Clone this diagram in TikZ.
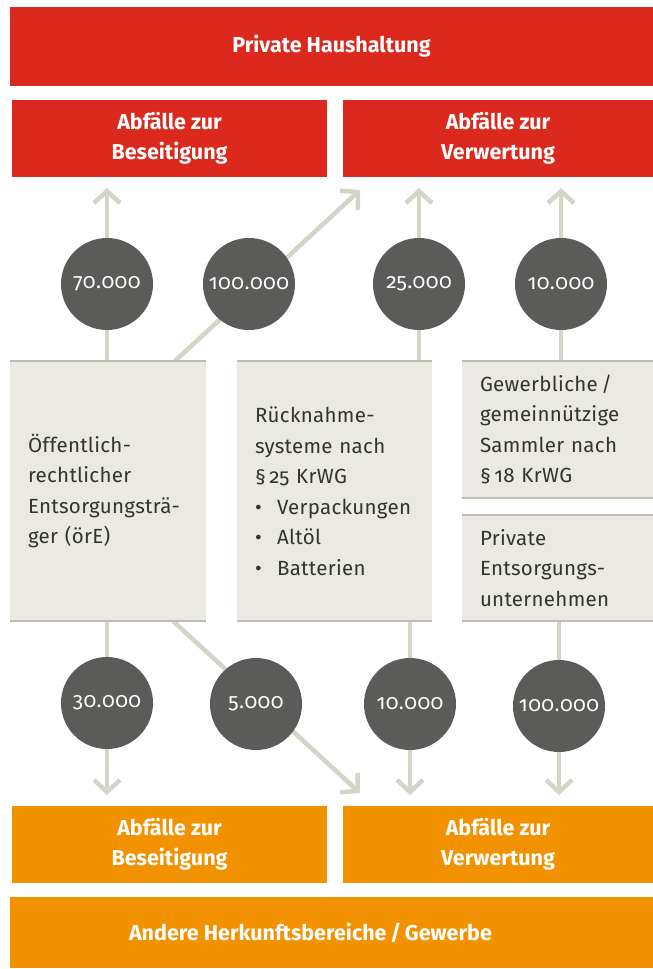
\documentclass[tikz,border=0pt]{standalone}
\usepackage{fontspec}
\setmainfont{Fira Sans}[Numbers=OldStyle]
\newfontfamily\numfont{Fira Sans}[Numbers=OldStyle, LetterSpace=2]
\newfontfamily\bodyfont{Fira Sans}[Numbers=OldStyle, LetterSpace=1.5]
\usetikzlibrary{arrows.meta}
\definecolor{hred}{HTML}{DC291E}
\definecolor{horange}{HTML}{F39200}
\definecolor{circgray}{HTML}{5B5B59}
\definecolor{boxgray}{HTML}{EAE9E2}
\definecolor{edgegray}{HTML}{BDBDB5}
\definecolor{arrowgray}{HTML}{D4D4C8}
\definecolor{bodytext}{HTML}{333333}
\pgfdeclarelayer{bg}
\pgfsetlayers{bg,main}
\begin{document}
\begin{tikzpicture}[x=1pt,y=-1pt,
  colbox/.style={anchor=north west, inner sep=0pt, outer sep=0pt, text=white, align=center,
    font=\fontsize{21.5}{30}\selectfont\bfseries},
  graybox/.style={anchor=north west, fill=boxgray, inner xsep=18pt, inner ysep=0pt, outer sep=0pt,
    align=left, text=bodytext, font=\bodyfont\fontsize{20.5}{30.5}\selectfont},
  numcirc/.style={circle, fill=circgray, minimum size=92pt, inner sep=0pt, text=white,
    font=\numfont\fontsize{21}{24}\selectfont},
  flow/.style={draw=arrowgray, line width=4.5pt, -{Straight Barb[length=12pt, width=26pt]}},
  edge/.style={draw=edgegray, line width=1.5pt}]
\useasboundingbox (0,0) rectangle (653,969);

% top row
\node[colbox, fill=hred, minimum width=643pt, minimum height=79pt] (top) at (10,7) {Private Haushaltung};
\node[colbox, fill=hred, minimum width=315pt, minimum height=77pt] (rb) at (12,100) {Abfälle zur\\Beseitigung};
\node[colbox, fill=hred, minimum width=310pt, minimum height=77pt] (rv) at (343,100) {Abfälle zur\\Verwertung};

% gray boxes
\node[graybox, text width=160pt, minimum height=260pt] (g1) at (10,361)
  {Öffentlich-\\rechtlicher\\Entsorgungsträ-\\ger (örE)};
\node[graybox, text width=159pt, minimum height=260pt] (g2) at (237,361)
  {Rücknahme-\\systeme nach\\§\,25 KrWG\\\makebox[22pt][l]{•}Verpackungen\\\makebox[22pt][l]{•}Altöl\\\makebox[22pt][l]{•}Batterien};
\node[graybox, text width=155pt, minimum height=137pt] (g3) at (462,361)
  {Gewerbliche\,/\\gemeinnützige\\Sammler nach\\§\,18 KrWG};
\node[graybox, text width=155pt, minimum height=106pt] (g4) at (462,515)
  {Private\\Entsorgungs-\\unternehmen};
\foreach \b in {g1,g2,g3,g4}{
  \draw[edge] (\b.north west) -- (\b.north east);
  \draw[edge] (\b.south west) -- (\b.south east);
}

% bottom row
\node[colbox, fill=horange, minimum width=315pt, minimum height=77pt] (ob) at (12,806) {Abfälle zur\\Beseitigung};
\node[colbox, fill=horange, minimum width=310pt, minimum height=77pt] (ov) at (343,806) {Abfälle zur\\Verwertung};
\node[colbox, fill=horange, minimum width=643pt, minimum height=71pt] (other) at (10,897)
  {Andere Herkunftsbereiche\,/\,Gewerbe\hspace*{42pt}};

% circles upper
\node[numcirc] (n70) at (107,284) {70.000};
\node[numcirc] (n100a) at (249,284) {100.000};
\node[numcirc] (n25) at (419,284) {25.000};
\node[numcirc] (n10a) at (561,284) {10.000};
% circles lower
\node[numcirc] (n30) at (107,703) {30.000};
\node[numcirc] (n5) at (256,704) {5.000};
\node[numcirc] (n10b) at (410,704) {10.000};
\node[numcirc] (n100b) at (559,706) {100.000};

% connector end points
\coordinate (t70) at (107,188);
\coordinate (s100a) at (175,361);
\coordinate (t100a) at (360,190);
\coordinate (t25) at (419,188);
\coordinate (t10a) at (561,188);
\coordinate (t30) at (107,795);
\coordinate (s5) at (173,621);
\coordinate (t5) at (360,793);
\coordinate (t10b) at (410,795);
\coordinate (t100b) at (559,795);

\begin{pgfonlayer}{bg}
  \draw[flow] (g1.north -| n70) -- (t70);
  \draw[flow] (s100a) -- (t100a);
  \draw[flow] (g2.north -| n25) -- (t25);
  \draw[flow] (g3.north -| n10a) -- (t10a);
  \draw[flow] (g1.south -| n30) -- (t30);
  \draw[flow] (s5) -- (t5);
  \draw[flow] (g2.south -| n10b) -- (t10b);
  \draw[flow] (g4.south -| n100b) -- (t100b);
\end{pgfonlayer}
\end{tikzpicture}
\end{document}
